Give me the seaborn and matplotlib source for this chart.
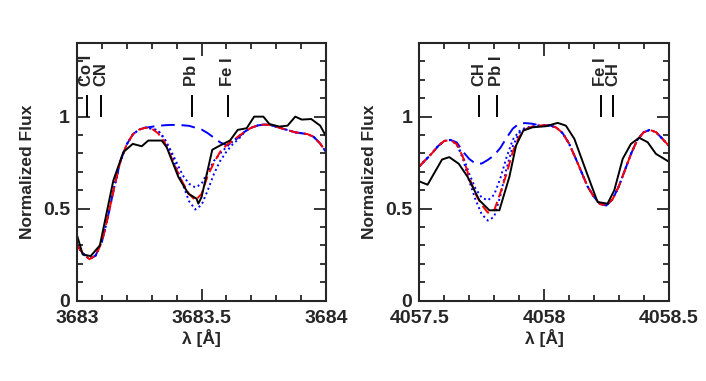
import numpy as np
import pandas as pd
import matplotlib
matplotlib.use("Agg")
import matplotlib.pyplot as plt
import seaborn as sns
from matplotlib.ticker import MultipleLocator

sns.set_style("ticks")
plt.rcParams['font.family'] = ['Liberation Sans', 'DejaVu Sans']
plt.rcParams['font.weight'] = 'bold'

# ---- left panel: Pb I 3683 ----
obs1_x = [3683.0, 3683.023, 3683.055, 3683.092, 3683.146, 3683.186, 3683.224, 3683.26,
          3683.286, 3683.34, 3683.36, 3683.407, 3683.447, 3683.48, 3683.487, 3683.50,
          3683.543, 3683.574, 3683.614, 3683.645, 3683.681, 3683.711, 3683.748, 3683.772,
          3683.812, 3683.845, 3683.876, 3683.902, 3683.94, 3683.976, 3684.0]
obs1_y = [0.356, 0.251, 0.242, 0.30, 0.653, 0.807, 0.852, 0.839,
          0.870, 0.870, 0.834, 0.672, 0.581, 0.554, 0.527, 0.563,
          0.820, 0.843, 0.870, 0.928, 0.937, 1.0, 1.0, 0.960,
          0.946, 0.951, 1.0, 0.984, 0.987, 0.951, 0.892]

mod1_x = [3683.0, 3683.025, 3683.05, 3683.075, 3683.1, 3683.125, 3683.15, 3683.175, 3683.2,
          3683.225, 3683.25, 3683.275, 3683.3, 3683.325, 3683.35, 3683.375, 3683.4, 3683.425,
          3683.45, 3683.475, 3683.5, 3683.525, 3683.55, 3683.575, 3683.6, 3683.625, 3683.65,
          3683.675, 3683.7, 3683.725, 3683.75, 3683.775, 3683.8, 3683.825, 3683.85, 3683.875,
          3683.9, 3683.925, 3683.95, 3683.975, 3684.0]
fit1 = [0.30, 0.255, 0.225, 0.245, 0.32, 0.46, 0.62, 0.76, 0.85,
        0.905, 0.93, 0.94, 0.935, 0.91, 0.865, 0.79, 0.71, 0.64,
        0.58, 0.545, 0.58, 0.68, 0.75, 0.81, 0.845, 0.87, 0.895,
        0.92, 0.94, 0.952, 0.957, 0.955, 0.945, 0.935, 0.925, 0.915,
        0.91, 0.905, 0.89, 0.855, 0.807]
hi1 = [0.30, 0.255, 0.225, 0.245, 0.32, 0.46, 0.62, 0.76, 0.85,
       0.905, 0.93, 0.94, 0.935, 0.925, 0.885, 0.82, 0.75, 0.68,
       0.635, 0.615, 0.635, 0.70, 0.76, 0.80, 0.835, 0.865, 0.895,
       0.92, 0.94, 0.952, 0.957, 0.955, 0.945, 0.935, 0.925, 0.915,
       0.91, 0.905, 0.89, 0.855, 0.807]
lo1 = [0.30, 0.255, 0.225, 0.245, 0.32, 0.46, 0.62, 0.76, 0.85,
       0.905, 0.93, 0.94, 0.935, 0.925, 0.88, 0.81, 0.72, 0.63,
       0.54, 0.495, 0.52, 0.60, 0.69, 0.76, 0.81, 0.85, 0.88,
       0.92, 0.94, 0.952, 0.957, 0.955, 0.945, 0.935, 0.925, 0.915,
       0.91, 0.905, 0.89, 0.855, 0.807]
nopb1 = [0.30, 0.255, 0.225, 0.245, 0.32, 0.46, 0.62, 0.76, 0.85,
         0.905, 0.93, 0.94, 0.945, 0.95, 0.953, 0.955, 0.955, 0.953,
         0.95, 0.94, 0.93, 0.91, 0.885, 0.86, 0.845, 0.86, 0.89,
         0.92, 0.94, 0.952, 0.957, 0.955, 0.945, 0.935, 0.925, 0.915,
         0.91, 0.905, 0.89, 0.855, 0.807]
lines1_x = [3683.04, 3683.095, 3683.46, 3683.605]
lines1_lab = ['Co I', 'CN', 'Pb I', 'Fe I']

# ---- right panel: Pb I 4057.8 ----
obs2_x = [4057.5, 4057.533, 4057.591, 4057.62, 4057.658, 4057.694, 4057.741, 4057.781,
          4057.821, 4057.861, 4057.888, 4057.917, 4057.954, 4058.008, 4058.055, 4058.088,
          4058.122, 4058.168, 4058.215, 4058.255, 4058.282, 4058.316, 4058.349, 4058.382,
          4058.416, 4058.449, 4058.5]
obs2_y = [0.648, 0.630, 0.767, 0.780, 0.744, 0.672, 0.545, 0.491,
          0.491, 0.672, 0.843, 0.924, 0.942, 0.948, 0.966, 0.951,
          0.879, 0.708, 0.536, 0.527, 0.599, 0.771, 0.852, 0.885,
          0.861, 0.798, 0.756]

mod2_x = [4057.5, 4057.525, 4057.55, 4057.575, 4057.6, 4057.625, 4057.65, 4057.675, 4057.7,
          4057.725, 4057.75, 4057.775, 4057.8, 4057.825, 4057.85, 4057.875, 4057.9, 4057.925,
          4057.95, 4057.975, 4058.0, 4058.025, 4058.05, 4058.075, 4058.1, 4058.125, 4058.15,
          4058.175, 4058.2, 4058.225, 4058.25, 4058.275, 4058.3, 4058.325, 4058.35, 4058.375,
          4058.4, 4058.425, 4058.45, 4058.475, 4058.5]
fit2 = [0.73, 0.765, 0.80, 0.84, 0.868, 0.873, 0.85, 0.78, 0.67,
        0.58, 0.52, 0.478, 0.49, 0.585, 0.69, 0.81, 0.89, 0.93,
        0.945, 0.951, 0.953, 0.952, 0.94, 0.91, 0.855, 0.78, 0.70,
        0.62, 0.565, 0.525, 0.517, 0.55, 0.62, 0.71, 0.80, 0.875,
        0.915, 0.928, 0.915, 0.88, 0.843]
hi2 = [0.73, 0.765, 0.80, 0.84, 0.868, 0.873, 0.85, 0.785, 0.69,
       0.61, 0.56, 0.545, 0.575, 0.665, 0.78, 0.875, 0.92, 0.94,
       0.945, 0.951, 0.953, 0.952, 0.94, 0.91, 0.855, 0.78, 0.70,
       0.62, 0.565, 0.525, 0.517, 0.55, 0.62, 0.71, 0.80, 0.875,
       0.915, 0.928, 0.915, 0.88, 0.843]
lo2 = [0.73, 0.765, 0.80, 0.84, 0.868, 0.873, 0.85, 0.77, 0.65,
       0.55, 0.47, 0.435, 0.455, 0.57, 0.72, 0.84, 0.91, 0.935,
       0.945, 0.951, 0.953, 0.952, 0.94, 0.91, 0.855, 0.78, 0.70,
       0.62, 0.565, 0.525, 0.517, 0.55, 0.62, 0.71, 0.80, 0.875,
       0.915, 0.928, 0.915, 0.88, 0.843]
nopb2 = [0.73, 0.765, 0.80, 0.84, 0.868, 0.873, 0.86, 0.81, 0.77,
         0.745, 0.745, 0.765, 0.79, 0.83, 0.885, 0.935, 0.962, 0.965,
         0.962, 0.955, 0.953, 0.952, 0.94, 0.91, 0.855, 0.78, 0.70,
         0.62, 0.565, 0.525, 0.517, 0.55, 0.62, 0.71, 0.80, 0.875,
         0.915, 0.928, 0.915, 0.88, 0.843]
lines2_x = [4057.738, 4057.81, 4058.228, 4058.275]
lines2_lab = ['CH', 'Pb I', 'Fe I', 'CH']

fig = plt.figure(figsize=(7.06, 3.81), dpi=100)
ax1 = fig.add_axes([0.109, 0.211, 0.353, 0.676])
ax2 = fig.add_axes([0.594, 0.211, 0.353, 0.676])


def draw(ax, ox, oy, mx, fit, hi, lo, nopb, lx, llab, xlim, xticks, xlabels):
    lw = 1.4
    sns.lineplot(x=mx, y=nopb, ax=ax, color='#0000ff', lw=lw,
                 linestyle=(0, (7, 3.5)))
    sns.lineplot(x=mx, y=hi, ax=ax, color='#0000ff', lw=lw, linestyle=(0, (1, 1.6)))
    sns.lineplot(x=mx, y=lo, ax=ax, color='#0000ff', lw=lw, linestyle=(0, (1, 1.6)))
    sns.lineplot(x=mx, y=fit, ax=ax, color='#ff0000', lw=lw, linestyle=(0, (5, 2.5)))
    sns.lineplot(x=ox, y=oy, ax=ax, color='black', lw=lw)
    ax.vlines(lx, 1.0, 1.12, color='black', lw=1.4)
    for x, t in zip(lx, llab):
        ax.text(x, 1.165, t, rotation=90, ha='center', va='bottom',
                fontsize=12, fontweight='bold')
    ax.set_xlim(*xlim)
    ax.set_ylim(0, 1.4)
    ax.xaxis.set_minor_locator(MultipleLocator(0.1))
    ax.yaxis.set_minor_locator(MultipleLocator(0.1))
    ax.set_xticks(xticks)
    ax.set_xticklabels(xlabels)
    ax.set_yticks([0, 0.5, 1])
    ax.set_yticklabels(['0', '0.5', '1'])
    ax.tick_params(which='both', direction='in', top=True, right=True,
                   labelsize=14, width=1.3)
    ax.tick_params(axis='x', pad=6.5)
    ax.tick_params(axis='y', pad=5)
    ax.tick_params(which='major', length=9)
    ax.tick_params(which='minor', length=4.5)
    for s in ax.spines.values():
        s.set_linewidth(1.5)
        s.set_visible(True)
    ax.set_xlabel('λ [Å]', fontsize=12.5, fontweight='bold', labelpad=2)
    ax.set_ylabel('Normalized Flux', fontsize=12.5, fontweight='bold', labelpad=6)


draw(ax1, obs1_x, obs1_y, mod1_x, fit1, hi1, lo1, nopb1, lines1_x, lines1_lab,
     (3683, 3684), [3683, 3683.5, 3684], ['3683', '3683.5', '3684'])
draw(ax2, obs2_x, obs2_y, mod2_x, fit2, hi2, lo2, nopb2, lines2_x, lines2_lab,
     (4057.5, 4058.5), [4057.5, 4058, 4058.5], ['4057.5', '4058', '4058.5'])

fig.savefig('out.png', dpi=100)
